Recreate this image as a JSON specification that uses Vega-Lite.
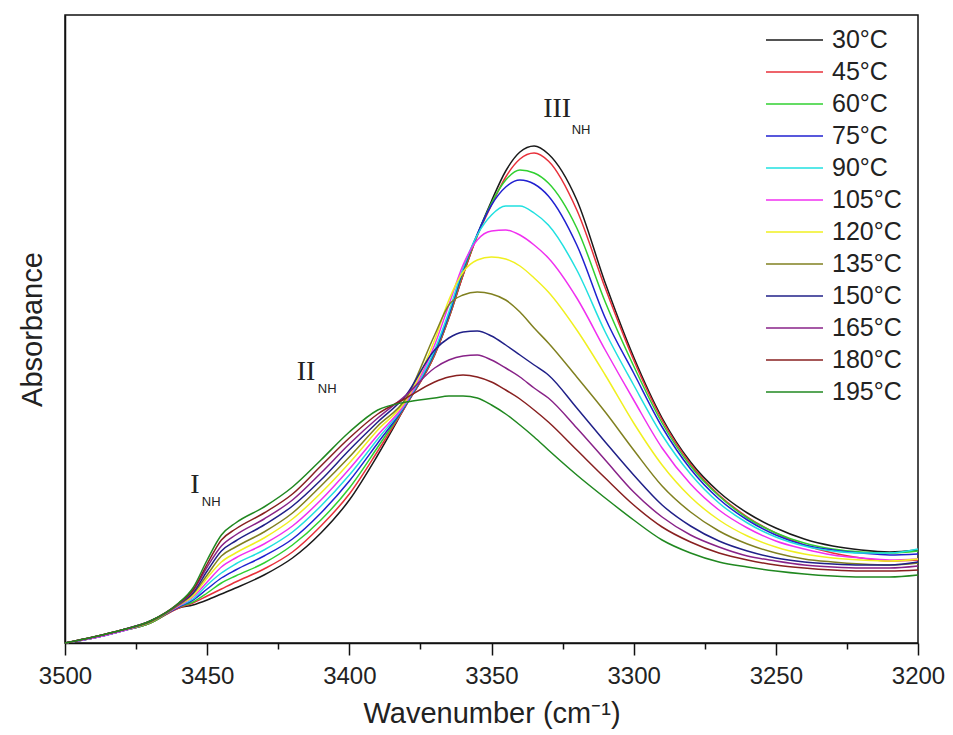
{
  "$schema": "https://vega.github.io/schema/vega-lite/v6.json",
  "width": 853,
  "height": 628,
  "autosize": {"type": "none"},
  "padding": {"left": 65, "top": 15, "right": 35, "bottom": 92},
  "background": "white",
  "config": {"view": {"stroke": "#111", "strokeWidth": 1.5}, "font": "Liberation Sans"},
  "datasets": {
    "spectra": [
      {"w":3500,"30°C":0,"45°C":0,"60°C":0,"75°C":0,"90°C":0,"105°C":0,"120°C":0,"135°C":0,"150°C":0,"165°C":0,"180°C":0,"195°C":0},
      {"w":3490,"30°C":0.005,"45°C":0.005,"60°C":0.005,"75°C":0.005,"90°C":0.005,"105°C":0.005,"120°C":0.006,"135°C":0.006,"150°C":0.006,"165°C":0.006,"180°C":0.006,"195°C":0.006},
      {"w":3480,"30°C":0.012,"45°C":0.012,"60°C":0.012,"75°C":0.012,"90°C":0.012,"105°C":0.012,"120°C":0.013,"135°C":0.013,"150°C":0.013,"165°C":0.013,"180°C":0.013,"195°C":0.013},
      {"w":3470,"30°C":0.020,"45°C":0.020,"60°C":0.020,"75°C":0.021,"90°C":0.021,"105°C":0.021,"120°C":0.021,"135°C":0.021,"150°C":0.022,"165°C":0.022,"180°C":0.022,"195°C":0.022},
      {"w":3460,"30°C":0.035,"45°C":0.035,"60°C":0.036,"75°C":0.036,"90°C":0.037,"105°C":0.037,"120°C":0.038,"135°C":0.038,"150°C":0.039,"165°C":0.039,"180°C":0.040,"195°C":0.040},
      {"w":3455,"30°C":0.038,"45°C":0.040,"60°C":0.041,"75°C":0.043,"90°C":0.044,"105°C":0.046,"120°C":0.047,"135°C":0.049,"150°C":0.050,"165°C":0.052,"180°C":0.053,"195°C":0.055},
      {"w":3450,"30°C":0.043,"45°C":0.047,"60°C":0.050,"75°C":0.054,"90°C":0.058,"105°C":0.061,"120°C":0.065,"135°C":0.068,"150°C":0.072,"165°C":0.076,"180°C":0.079,"195°C":0.083},
      {"w":3445,"30°C":0.049,"45°C":0.054,"60°C":0.060,"75°C":0.065,"90°C":0.070,"105°C":0.076,"120°C":0.081,"135°C":0.087,"150°C":0.092,"165°C":0.097,"180°C":0.103,"195°C":0.108},
      {"w":3440,"30°C":0.055,"45°C":0.061,"60°C":0.067,"75°C":0.073,"90°C":0.079,"105°C":0.085,"120°C":0.090,"135°C":0.096,"150°C":0.102,"165°C":0.108,"180°C":0.114,"195°C":0.120},
      {"w":3430,"30°C":0.068,"45°C":0.074,"60°C":0.080,"75°C":0.087,"90°C":0.093,"105°C":0.099,"120°C":0.105,"135°C":0.111,"150°C":0.118,"165°C":0.124,"180°C":0.130,"195°C":0.136},
      {"w":3420,"30°C":0.085,"45°C":0.091,"60°C":0.098,"75°C":0.104,"90°C":0.111,"105°C":0.117,"120°C":0.124,"135°C":0.130,"150°C":0.137,"165°C":0.143,"180°C":0.149,"195°C":0.156},
      {"w":3410,"30°C":0.110,"45°C":0.117,"60°C":0.123,"75°C":0.130,"90°C":0.137,"105°C":0.143,"120°C":0.150,"135°C":0.157,"150°C":0.163,"165°C":0.170,"180°C":0.177,"195°C":0.183},
      {"w":3400,"30°C":0.143,"45°C":0.149,"60°C":0.155,"75°C":0.162,"90°C":0.168,"105°C":0.174,"120°C":0.180,"135°C":0.186,"150°C":0.193,"165°C":0.199,"180°C":0.205,"195°C":0.211},
      {"w":3390,"30°C":0.188,"45°C":0.192,"60°C":0.196,"75°C":0.200,"90°C":0.204,"105°C":0.208,"120°C":0.213,"135°C":0.217,"150°C":0.221,"165°C":0.225,"180°C":0.229,"195°C":0.233},
      {"w":3380,"30°C":0.238,"45°C":0.238,"60°C":0.239,"75°C":0.239,"90°C":0.240,"105°C":0.241,"120°C":0.243,"135°C":0.245,"150°C":0.248,"165°C":0.248,"180°C":0.245,"195°C":0.241},
      {"w":3370,"30°C":0.288,"45°C":0.288,"60°C":0.290,"75°C":0.291,"90°C":0.293,"105°C":0.298,"120°C":0.303,"135°C":0.308,"150°C":0.293,"165°C":0.275,"180°C":0.261,"195°C":0.245},
      {"w":3365,"30°C":0.325,"45°C":0.325,"60°C":0.327,"75°C":0.328,"90°C":0.331,"105°C":0.338,"120°C":0.343,"135°C":0.338,"150°C":0.305,"165°C":0.283,"180°C":0.266,"195°C":0.247},
      {"w":3360,"30°C":0.368,"45°C":0.368,"60°C":0.371,"75°C":0.373,"90°C":0.375,"105°C":0.378,"120°C":0.371,"135°C":0.348,"150°C":0.311,"165°C":0.287,"180°C":0.268,"195°C":0.247},
      {"w":3355,"30°C":0.408,"45°C":0.407,"60°C":0.408,"75°C":0.409,"90°C":0.408,"105°C":0.403,"120°C":0.383,"135°C":0.351,"150°C":0.312,"165°C":0.288,"180°C":0.266,"195°C":0.245},
      {"w":3350,"30°C":0.442,"45°C":0.438,"60°C":0.440,"75°C":0.438,"90°C":0.428,"105°C":0.412,"120°C":0.386,"135°C":0.349,"150°C":0.307,"165°C":0.283,"180°C":0.261,"195°C":0.238},
      {"w":3345,"30°C":0.472,"45°C":0.466,"60°C":0.463,"75°C":0.456,"90°C":0.437,"105°C":0.413,"120°C":0.384,"135°C":0.343,"150°C":0.298,"165°C":0.275,"180°C":0.253,"195°C":0.229},
      {"w":3340,"30°C":0.491,"45°C":0.484,"60°C":0.473,"75°C":0.463,"90°C":0.437,"105°C":0.408,"120°C":0.377,"135°C":0.331,"150°C":0.288,"165°C":0.266,"180°C":0.244,"195°C":0.218},
      {"w":3335,"30°C":0.497,"45°C":0.490,"60°C":0.470,"75°C":0.459,"90°C":0.430,"105°C":0.398,"120°C":0.365,"135°C":0.315,"150°C":0.278,"165°C":0.255,"180°C":0.233,"195°C":0.206},
      {"w":3330,"30°C":0.489,"45°C":0.482,"60°C":0.460,"75°C":0.447,"90°C":0.418,"105°C":0.385,"120°C":0.351,"135°C":0.300,"150°C":0.268,"165°C":0.245,"180°C":0.221,"195°C":0.193},
      {"w":3320,"30°C":0.443,"45°C":0.433,"60°C":0.415,"75°C":0.398,"90°C":0.373,"105°C":0.345,"120°C":0.313,"135°C":0.266,"150°C":0.235,"165°C":0.215,"180°C":0.193,"195°C":0.168},
      {"w":3310,"30°C":0.360,"45°C":0.355,"60°C":0.341,"75°C":0.325,"90°C":0.311,"105°C":0.293,"120°C":0.268,"135°C":0.231,"150°C":0.201,"165°C":0.183,"180°C":0.165,"195°C":0.145},
      {"w":3300,"30°C":0.286,"45°C":0.283,"60°C":0.277,"75°C":0.270,"90°C":0.258,"105°C":0.243,"120°C":0.220,"135°C":0.193,"150°C":0.168,"165°C":0.151,"180°C":0.138,"195°C":0.123},
      {"w":3290,"30°C":0.225,"45°C":0.223,"60°C":0.220,"75°C":0.216,"90°C":0.208,"105°C":0.195,"120°C":0.178,"135°C":0.157,"150°C":0.138,"165°C":0.126,"180°C":0.116,"195°C":0.103},
      {"w":3280,"30°C":0.181,"45°C":0.179,"60°C":0.177,"75°C":0.174,"90°C":0.169,"105°C":0.159,"120°C":0.146,"135°C":0.131,"150°C":0.117,"165°C":0.108,"180°C":0.101,"195°C":0.090},
      {"w":3270,"30°C":0.151,"45°C":0.148,"60°C":0.147,"75°C":0.144,"90°C":0.140,"105°C":0.133,"120°C":0.123,"135°C":0.112,"150°C":0.102,"165°C":0.096,"180°C":0.090,"195°C":0.081},
      {"w":3260,"30°C":0.130,"45°C":0.126,"60°C":0.125,"75°C":0.123,"90°C":0.120,"105°C":0.115,"120°C":0.107,"135°C":0.099,"150°C":0.092,"165°C":0.087,"180°C":0.083,"195°C":0.076},
      {"w":3250,"30°C":0.115,"45°C":0.110,"60°C":0.110,"75°C":0.108,"90°C":0.106,"105°C":0.102,"120°C":0.096,"135°C":0.090,"150°C":0.085,"165°C":0.082,"180°C":0.078,"195°C":0.072},
      {"w":3240,"30°C":0.104,"45°C":0.098,"60°C":0.100,"75°C":0.098,"90°C":0.097,"105°C":0.094,"120°C":0.089,"135°C":0.084,"150°C":0.081,"165°C":0.078,"180°C":0.075,"195°C":0.069},
      {"w":3230,"30°C":0.097,"45°C":0.090,"60°C":0.094,"75°C":0.093,"90°C":0.092,"105°C":0.088,"120°C":0.085,"135°C":0.081,"150°C":0.079,"165°C":0.076,"180°C":0.073,"195°C":0.067},
      {"w":3220,"30°C":0.093,"45°C":0.085,"60°C":0.091,"75°C":0.090,"90°C":0.090,"105°C":0.085,"120°C":0.083,"135°C":0.079,"150°C":0.078,"165°C":0.075,"180°C":0.072,"195°C":0.066},
      {"w":3210,"30°C":0.091,"45°C":0.082,"60°C":0.090,"75°C":0.088,"90°C":0.090,"105°C":0.083,"120°C":0.082,"135°C":0.078,"150°C":0.078,"165°C":0.075,"180°C":0.072,"195°C":0.066},
      {"w":3200,"30°C":0.093,"45°C":0.083,"60°C":0.092,"75°C":0.089,"90°C":0.094,"105°C":0.084,"120°C":0.084,"135°C":0.080,"150°C":0.081,"165°C":0.077,"180°C":0.073,"195°C":0.068}
    ],
    "numerals": [
      {"w": 3454.3, "a": 0.158, "t": "I"},
      {"w": 3415.2, "a": 0.271, "t": "II"},
      {"w": 3326.9, "a": 0.534, "t": "III"}
    ],
    "subs": [
      {"w": 3448.6, "a": 0.141, "t": "NH"},
      {"w": 3407.8, "a": 0.254, "t": "NH"},
      {"w": 3318.5, "a": 0.513, "t": "NH"}
    ]
  },
  "layer": [
    {
      "data": {"name": "spectra"},
      "transform": [{"fold": ["30°C","45°C","60°C","75°C","90°C","105°C","120°C","135°C","150°C","165°C","180°C","195°C"], "as": ["T", "A"]}],
      "mark": {"type": "line", "interpolate": "monotone", "strokeWidth": 1.5},
      "encoding": {
        "x": {
          "field": "w", "type": "quantitative",
          "scale": {"domain": [3200, 3500], "reverse": true, "nice": false, "zero": false},
          "axis": {
            "values": [3500, 3450, 3400, 3350, 3300, 3250, 3200],
            "format": "d", "title": "Wavenumber (cm⁻¹)", "grid": false,
            "tickSize": 12, "tickWidth": 1.5, "tickColor": "#111",
            "domainWidth": 1.5, "domainColor": "#111",
            "labelFontSize": 24, "labelColor": "#222", "labelPadding": 9, "labelFlush": false,
            "titleFontSize": 29, "titleFontWeight": "normal", "titleColor": "#222", "titlePadding": 11
          }
        },
        "y": {
          "field": "A", "type": "quantitative",
          "scale": {"domain": [0, 0.628], "nice": false, "zero": false},
          "axis": {
            "title": "Absorbance", "labels": false, "ticks": false, "grid": false,
            "domainColor": "#111", "domainWidth": 1.5,
            "titleFontSize": 29, "titleFontWeight": "normal", "titleColor": "#222", "titlePadding": 18
          }
        },
        "color": {
          "field": "T", "type": "nominal",
          "scale": {
            "domain": ["30°C","45°C","60°C","75°C","90°C","105°C","120°C","135°C","150°C","165°C","180°C","195°C"],
            "range": ["#1a1a1a","#e8303a","#30d030","#2020d0","#20e0e0","#f030f0","#f0f020","#808020","#202088","#882288","#882020","#208820"]
          },
          "legend": {
            "title": null, "orient": "none", "legendX": 700, "legendY": 9, "padding": 0,
            "symbolType": "stroke", "symbolSize": 3249, "symbolStrokeWidth": 1.5,
            "labelFontSize": 25, "labelColor": "#222", "labelOffset": 8, "rowPadding": 0,
            "clipHeight": 32, "labelFont": "Liberation Sans"
          }
        }
      }
    },
    {
      "data": {"name": "numerals"},
      "mark": {"type": "text", "font": "Liberation Serif", "fontSize": 28, "color": "#222", "baseline": "middle", "align": "center"},
      "encoding": {
        "x": {
          "field": "w", "type": "quantitative",
          "scale": {"domain": [3200, 3500], "reverse": true, "nice": false, "zero": false},
          "axis": {
            "orient": "bottom", "values": [3475, 3425, 3375, 3325, 3275, 3225],
            "labels": false, "domain": false, "grid": false, "title": null,
            "tickSize": 6, "tickWidth": 1.5, "tickColor": "#111"
          }
        },
        "y": {"field": "a", "type": "quantitative", "scale": {"domain": [0, 0.628], "nice": false, "zero": false}, "axis": null},
        "text": {"field": "t"}
      }
    },
    {
      "data": {"name": "subs"},
      "mark": {"type": "text", "font": "Liberation Sans", "fontSize": 13, "color": "#222", "baseline": "middle", "align": "center"},
      "encoding": {
        "x": {"field": "w", "type": "quantitative", "scale": {"domain": [3200, 3500], "reverse": true, "nice": false, "zero": false}, "axis": null},
        "y": {"field": "a", "type": "quantitative", "scale": {"domain": [0, 0.628], "nice": false, "zero": false}, "axis": null},
        "text": {"field": "t"}
      }
    }
  ],
  "resolve": {"axis": {"x": "independent", "y": "independent"}}
}
